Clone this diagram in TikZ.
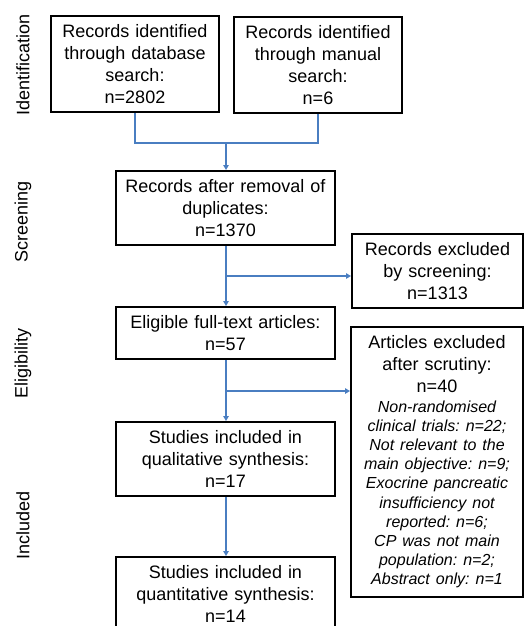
\documentclass[tikz,border=0pt]{standalone}
\usepackage{fontspec}
\setmainfont{Liberation Sans}
\usepackage{tikz}
\usetikzlibrary{arrows.meta}
\definecolor{flowblue}{RGB}{74,126,193}
\frenchspacing

\begin{document}
\begin{tikzpicture}[%
    x=1pt, y=-1pt,
    box/.style={%
        draw,
        line width=2pt,
        rectangle,
        inner sep=0pt,
        align=center,
        font=\fontsize{18}{22}\selectfont
    },
    stage/.style={%
        rotate=90,
        font=\fontsize{18}{22}\selectfont
    },
    flow/.style={%
        flowblue,
        line width=1.8pt
    },
    >={Triangle[length=5pt,width=5.5pt]}
]
\useasboundingbox (0,0) rectangle (524,626);

% Stages
    \node[stage] (stageIdent) at (23,65) {Identification};
    \node[stage] (stageScreen) at (23,222) {Screening};
    \node[stage] (stageElig) at (23,363) {Eligibility};
    \node[stage] (stageIncl) at (23,525) {Included};

% Identification
    \node[box, minimum width=168pt, minimum height=96pt, text width=160pt] (database) at (135,64) {Records identified\\through database\\search:\\n=2802};
    \node[box, minimum width=168pt, minimum height=96pt, text width=160pt] (manual) at (318,65) {Records identified\\through manual\\search:\\n=6};

% Screening
    \node[box, minimum width=219pt, minimum height=74pt, text width=210pt] (duplicates) at (225.5,208) {Records after removal of\\duplicates:\\n=1370};
    \node[box, minimum width=171pt, minimum height=74pt, text width=165pt] (screened) at (437.5,271) {Records excluded\\by screening:\\n=1313};

% Eligibility
    \node[box, minimum width=219pt, minimum height=52pt, text width=210pt] (fulltext) at (225.5,333) {Eligible full-text articles:\\n=57};
    \node[box, minimum width=172pt, minimum height=270pt, text width=166pt] (scrutiny) at (437,462) {Articles excluded\\after scrutiny:\\n=40\par
        {\fontsize{16}{19.2}\selectfont\itshape Non-randomised\\clinical trials: n=22;\\Not relevant to the\\main objective: n=9;\\Exocrine pancreatic\\insufficiency not\\reported: n=6;\\CP was not main\\population: n=2;\\Abstract only: n=1\par}};

% Included
    \node[box, minimum width=219pt, minimum height=74pt, text width=210pt] (qualitative) at (225.5,459) {Studies included in\\qualitative synthesis:\\n=17};
    \node[box, minimum width=219pt, minimum height=74pt, text width=210pt] (quantitative) at (225.5,594) {Studies included in\\quantitative synthesis:\\n=14};

% Junctions
    \coordinate (merge) at (226,143);
    \coordinate (split1) at (226,276);
    \coordinate (split2) at (226,391);

% Arrows
\draw[flow] (database.south) |- (merge) -| (manual.south);
\draw[flow,->] (merge) -- (duplicates.north -| merge);
\draw[flow,->] (duplicates.south -| merge) -- (fulltext.north -| merge);
\draw[flow,->] (split1) -- (split1 -| screened.west);
\draw[flow,->] (fulltext.south -| merge) -- (qualitative.north -| merge);
\draw[flow,->] (split2) -- (split2 -| scrutiny.west);
\draw[flow,->] (qualitative.south -| merge) -- (quantitative.north -| merge);

\end{tikzpicture}
\end{document}
